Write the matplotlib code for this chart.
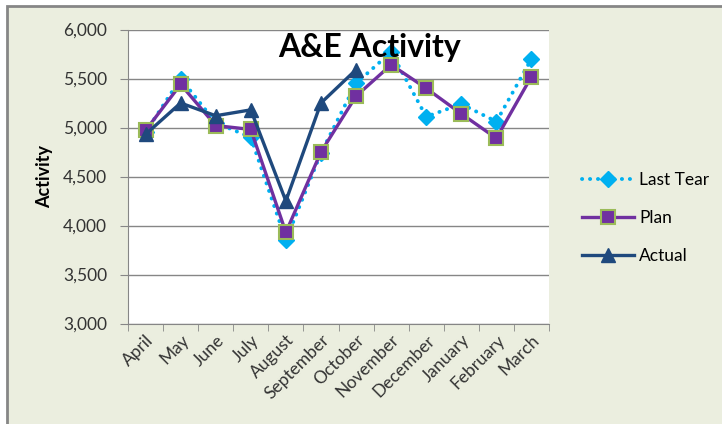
import matplotlib.pyplot as plt
from matplotlib.patches import Rectangle
from matplotlib.ticker import FuncFormatter, FixedLocator
import numpy as np

plt.rcParams['font.family'] = ['Lato', 'DejaVu Sans']

months = ['April', 'May', 'June', 'July', 'August', 'September', 'October',
          'November', 'December', 'January', 'February', 'March']
last_year = [4950, 5500, 5050, 4900, 3850, 4740, 5450, 5770, 5110, 5240, 5060, 5700]
plan = [4970, 5440, 5020, 4980, 3930, 4750, 5320, 5640, 5400, 5140, 4890, 5520]
actual = [4930, 5250, 5120, 5180, 4250, 5250, 5590]

bg = '#EBEEDF'
grey = '#868686'

fig = plt.figure(figsize=(7.22, 4.24), dpi=100, facecolor='white')
fig.patches.append(Rectangle((7 / 722, -0.1), 1.0, 1.1 - 6.5 / 424,
                             transform=fig.transFigure, facecolor=bg,
                             edgecolor=grey, linewidth=2, zorder=-10))

ax = fig.add_axes([128 / 722, 1 - 323.5 / 424, 421 / 722, 294 / 424])
ax.set_facecolor('white')

x = np.arange(len(months))
ax.plot(x, last_year, color='#00B0F0', linestyle=(0, (0.05, 2.0)), linewidth=2.8,
        dash_capstyle='round', marker='D', markersize=8, markeredgecolor='#00B0F0',
        label='Last Tear', zorder=3)
ax.plot(x, plan, color='#7030A0', linewidth=2.4, marker='s', markersize=10,
        markerfacecolor='#7030A0', markeredgecolor='#9BBB59', markeredgewidth=1.5,
        label='Plan', zorder=4)
ax.plot(x[:len(actual)], actual, color='#1F497D', linewidth=2.4, marker='^',
        markersize=10, label='Actual', zorder=5)

ax.set_xlim(-0.5, len(months) - 0.5)
ax.set_ylim(3000, 6000)
ax.set_yticks(np.arange(3000, 6001, 500))
ax.yaxis.set_major_formatter(FuncFormatter(lambda v, p: f'{int(v):,}'))
ax.yaxis.grid(True, color=grey, linewidth=1)
ax.set_axisbelow(True)

ax.set_xticks(x)
ax.set_xticklabels(months, rotation=45, ha='right', rotation_mode='anchor', fontsize=12.5)
ax.xaxis.set_minor_locator(FixedLocator(np.arange(-0.5, len(months), 1)))
ax.tick_params(axis='x', which='major', length=0, pad=6, colors='#333333')
ax.tick_params(axis='x', which='minor', length=5, color=grey)
ax.tick_params(axis='y', length=6, pad=9, color=grey, labelsize=12.5, labelcolor='#333333')

for s in ['top', 'right']:
    ax.spines[s].set_visible(False)
for s in ['left', 'bottom']:
    ax.spines[s].set_color(grey)

fig.text(370 / 722, 1 - 47 / 424, 'A&E Activity', ha='center', va='center',
         fontsize=23, fontweight='bold')
fig.text(45 / 722, 1 - 176 / 424, 'Activity', ha='center', va='center',
         rotation=90, fontsize=13, fontweight='bold')

fig.legend(loc='center left', bbox_to_anchor=(566 / 722, 1 - 218 / 424),
           frameon=False, fontsize=12.5, handlelength=3.0, handletextpad=0.3,
           labelspacing=1.25)

fig.savefig('out.png', dpi=100, facecolor=fig.get_facecolor())
